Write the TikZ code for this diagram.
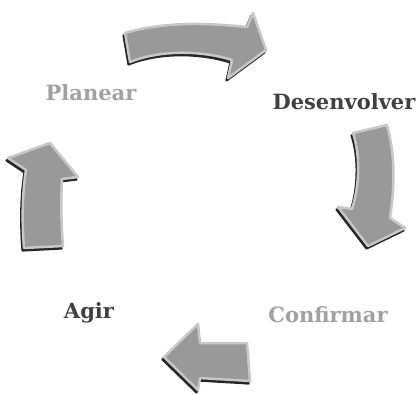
\documentclass[tikz,border=0pt]{standalone}
\usepackage{fontspec}
\setmainfont{DejaVu Serif}
\begin{document}
\begin{tikzpicture}[x=1pt,y=1pt,
  lbl/.style={font=\fontsize{21}{24}\selectfont\bfseries, inner sep=0pt},
  lightlbl/.style={lbl, text=black!37},
  darklbl/.style={lbl, text=black!75},
  arrowshadow/.style={fill=black!85, draw=black!85, line width=2.2pt, line join=round},
  arrowbody/.style={fill=black!40, draw=black!22, line width=2.5pt, line join=round}]
\useasboundingbox (0,0) rectangle (419,394);

% curved arrow shapes of the cycle
\def\arrowTop{(125,361) .. controls (170,374) and (215,370) .. (247,367) -- (253,381) -- (266,344) -- (228,316) -- (232,334) .. controls (200,344) and (160,344) .. (130,332) -- cycle}
\def\arrowRight{(353,261) -- (387,269) .. controls (395,240) and (395,210) .. (390,176) -- (405,166) -- (368,148) -- (338,187) -- (352,185) .. controls (360,210) and (360,240) .. (353,261) -- cycle}
\def\arrowBottom{(247,51) -- (250,13) .. controls (235,14) and (215,15) .. (200,16) -- (198,4) -- (164,37) -- (198,70) -- (200,51) -- cycle}
\def\arrowLeft{(50,251) -- (8,236) -- (26,224) .. controls (22,200) and (22,170) .. (24,146) -- (63,148) .. controls (61,170) and (61,195) .. (62,215) -- (78,217) -- cycle}

\foreach \shape in {\arrowTop,\arrowRight,\arrowBottom,\arrowLeft}{
  \path[arrowshadow, shift={(-1.5,-2.5)}] \shape;
  \path[arrowbody] \shape;
}

\node[lightlbl] (planear) at (91,301) {Planear};
\node[darklbl] (desenvolver) at (344,292) {Desenvolver};
\node[lightlbl] (confirmar) at (328,79) {Confirmar};
\node[darklbl] (agir) at (89,81) {Agir};
\end{tikzpicture}
\end{document}
